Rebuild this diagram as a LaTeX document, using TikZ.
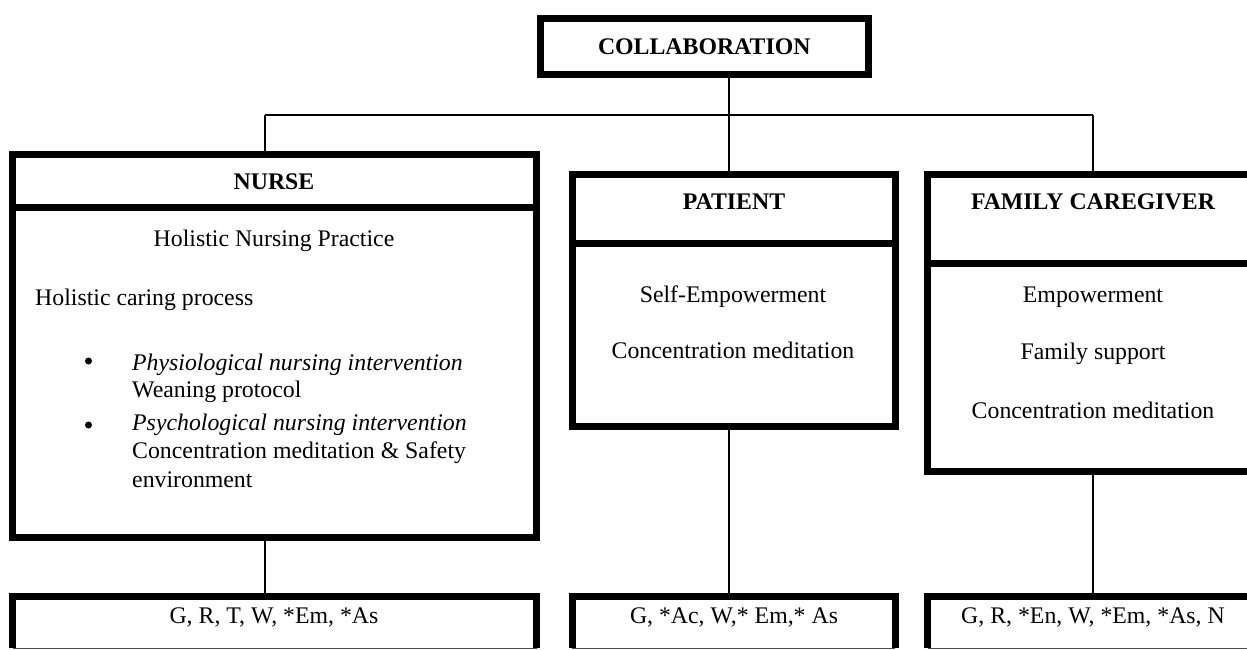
\documentclass[tikz,border=0pt]{standalone}
\usepackage{fontspec}
\setmainfont{Liberation Serif}
\begin{document}
\begin{tikzpicture}[x=1pt,y=-1pt,
  box/.style={draw, line width=7pt, rectangle, inner sep=0pt, outer sep=0pt},
  bbox/.style={rectangle, inner sep=0pt, outer sep=0pt},
  thickline/.style={line width=7pt},
  thinline/.style={line width=1pt, black!70},
  conn/.style={line width=1.6pt},
  dot/.style={circle, fill=black, inner sep=0pt, minimum size=7pt},
  t/.style={font=\fontsize{23.8}{28}\selectfont, inner sep=0pt, anchor=base},
  tb/.style={font=\fontsize{23.8}{28}\selectfont\bfseries, inner sep=0pt, anchor=base},
  tl/.style={font=\fontsize{23.8}{28}\selectfont, inner sep=0pt, anchor=base west},
  ti/.style={font=\fontsize{23.8}{28}\selectfont\itshape, inner sep=0pt, anchor=base west}]
\useasboundingbox (0,0) rectangle (1247,650);
\clip (0,0) rectangle (1247,650);

% top
\node[box, minimum width=328.5pt, minimum height=56pt] (collab) at (704.25,46.5) {};
\node[tb] (collabT) at (704.25,55) {COLLABORATION};

% nurse
\node[box, minimum width=523.5pt, minimum height=53.5pt] (nurseH) at (274.25,180.75) {};
\node[box, minimum width=523.5pt, minimum height=330pt] (nurseB) at (274.25,372.5) {};
\node[tb] (nurseT) at (274,189) {NURSE};
\node[t] (n1) at (274,246) {Holistic Nursing Practice};
\node[tl] (n2) at (35,305) {Holistic caring process};
\node[dot] (bul1) at (88.5,361) {};
\node[ti] (n3) at (132,370) {Physiological nursing intervention};
\node[tl] (n4) at (132,397) {Weaning protocol};
\node[dot] (bul2) at (88.5,425) {};
\node[ti] (n5) at (132,430) {Psychological nursing intervention};
\node[tl] (n6) at (132,458) {Concentration meditation \& Safety};
\node[tl] (n7) at (132,487) {environment};

% patient
\node[box, minimum width=322.5pt, minimum height=69pt] (patH) at (733.75,208.5) {};
\node[box, minimum width=322.5pt, minimum height=183.5pt] (patB) at (733.75,334.75) {};
\node[tb] (patT) at (734,209) {PATIENT};
\node[t] (p1) at (733,302) {Self-Empowerment};
\node[t] (p2) at (733,358) {Concentration meditation};

% family
\node[box, minimum width=331pt, minimum height=89.5pt] (famH) at (1093,218.75) {};
\node[box, minimum width=331pt, minimum height=208pt] (famB) at (1093,367.5) {};
\node[tb] (famT) at (1093,209) {FAMILY CAREGIVER};
\node[t] (f1) at (1093,302) {Empowerment};
\node[t] (f2) at (1093,359) {Family support};
\node[t] (f3) at (1093,418) {Concentration meditation};

% outcome boxes
\node[bbox, minimum width=524pt, minimum height=52pt] (nurseO) at (274.5,622) {};
\node[bbox, minimum width=323pt, minimum height=52pt] (patO) at (733.5,622) {};
\node[bbox, minimum width=331pt, minimum height=52pt] (famO) at (1093,622) {};
\foreach \b in {nurseO,patO,famO}{
  \draw[thickline] (\b.south west) |- (\b.north east) -- (\b.south east);
  \draw[thinline] (\b.south west) -- (\b.south east);
}
\node[t] (o1) at (274,623) {G, R, T, W, *Em, *As};
\node[t] (o2) at (734,623) {G, *Ac, W,* Em,* As};
\node[t] (o3) at (1093,623) {G, R, *En, W, *Em, *As, N};

% connectors
\coordinate (mj) at (729,115);
\coordinate (lj) at (265,115);
\coordinate (rj) at (1093,115);
\draw[conn] (mj |- collab.south) -- (mj);
\draw[conn] (lj) -- (rj);
\draw[conn] (lj) -- (lj |- nurseH.north);
\draw[conn] (mj) -- (mj |- patH.north);
\draw[conn] (rj) -- (rj |- famH.north);
\draw[conn] (lj |- nurseB.south) -- (lj |- nurseO.north);
\draw[conn] (mj |- patB.south) -- (mj |- patO.north);
\draw[conn] (rj |- famB.south) -- (rj |- famO.north);
\end{tikzpicture}
\end{document}
